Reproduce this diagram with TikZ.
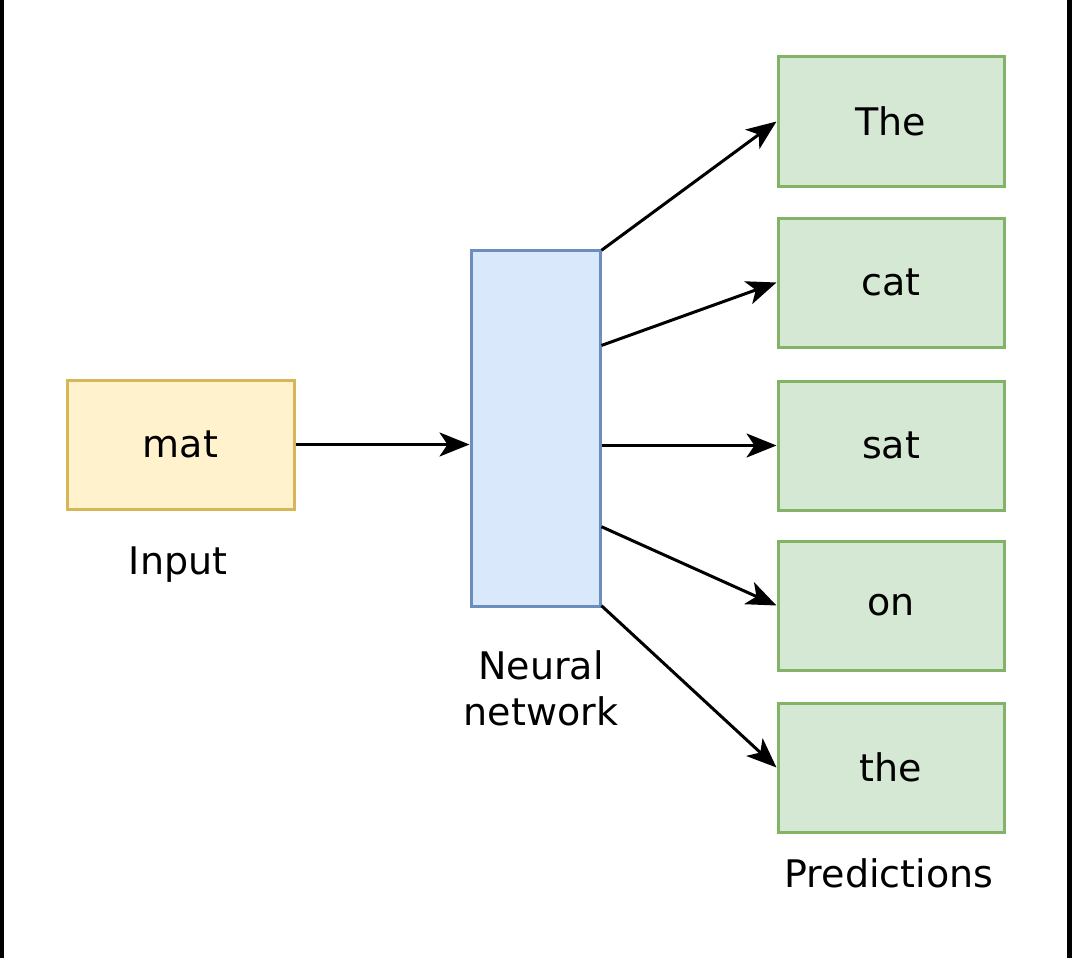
\documentclass[tikz,border=0pt]{standalone}
\usepackage{fontspec}
\setmainfont{DejaVu Sans}
\usetikzlibrary{arrows.meta,calc}
\definecolor{inFill}{HTML}{FFF2CC}
\definecolor{inDraw}{HTML}{D6B656}
\definecolor{nnFill}{HTML}{DAE8FC}
\definecolor{nnDraw}{HTML}{6C8EBF}
\definecolor{prFill}{HTML}{D5E8D4}
\definecolor{prDraw}{HTML}{82B366}
\tikzset{
  box/.style={rectangle, line width=3pt, inner sep=0pt, font=\fontsize{38}{46}\selectfont},
  inbox/.style={box, fill=inFill, draw=inDraw, minimum width=227pt, minimum height=129pt},
  nnbox/.style={box, fill=nnFill, draw=nnDraw, minimum width=129pt, minimum height=356pt},
  prbox/.style={box, fill=prFill, draw=prDraw, minimum width=226pt, minimum height=129pt},
  lbl/.style={inner sep=0pt, anchor=base, font=\fontsize{38}{46}\selectfont, align=center},
  conn/.style={line width=3pt, -{Stealth[length=30pt,width=24pt,inset=8pt]}},
}
\begin{document}
\begin{tikzpicture}[x=1pt,y=-1pt]
\useasboundingbox (0,0) rectangle (1072,958);
\fill[white] (0,0) rectangle (1072,958);
\fill[black] (0,0) rectangle (4,958);
\fill[black] (1067,0) rectangle (1072,958);
\node[inbox] (mat) at (180.5,444.5) {mat};
\node[nnbox] (nn) at (535.5,428) {};
\node[prbox] (p1) at (891,121.5) {The};
\node[prbox] (p2) at (891,282.5) {cat};
\node[prbox] (p3) at (891,445.5) {sat};
\node[prbox] (p4) at (891,605.5) {on};
\node[prbox] (p5) at (891,767.5) {the};
\node[lbl] (lin) at (178,574) {Input};
\node[lbl, anchor=north] (lnn) at (541,650) {Neural\\network};
\node[lbl] (lpr) at (889,887) {Predictions};
\coordinate (s1) at ($(nn.north east)!0.005!(nn.south east)$);
\coordinate (s2) at ($(nn.north east)!0.27!(nn.south east)$);
\coordinate (s3) at (p3.west -| nn.east);
\coordinate (s4) at ($(nn.north east)!0.775!(nn.south east)$);
\coordinate (s5) at ($(nn.north east)!0.995!(nn.south east)$);
\coordinate (t0) at (mat.east -| nn.west);
\draw[conn] (mat.east) -- (t0);
\draw[conn] (s1) -- (p1.west);
\draw[conn] (s2) -- (p2.west);
\draw[conn] (s3) -- (p3.west);
\draw[conn] (s4) -- (p4.west);
\draw[conn] (s5) -- (p5.west);
\end{tikzpicture}
\end{document}
